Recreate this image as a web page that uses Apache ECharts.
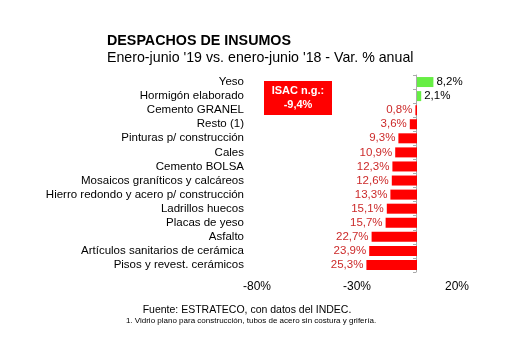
<!DOCTYPE html>
<html><head><meta charset="utf-8">
<script src="https://cdn.jsdelivr.net/npm/echarts@6/dist/echarts.min.js"></script>
<style>html,body{margin:0;padding:0;background:#fff}#c{width:530px;height:355px}</style>
</head><body><div id="c"></div>
<script>
const categories = ["Yeso","Hormigón elaborado","Cemento GRANEL","Resto (1)","Pinturas p/ construcción","Cales","Cemento BOLSA","Mosaicos graníticos y calcáreos","Hierro redondo y acero p/ construcción","Ladrillos huecos","Placas de yeso","Asfalto","Artículos sanitarios de cerámica","Pisos y revest. cerámicos"];
const values = [8.2, 2.1, -0.8, -3.6, -9.3, -10.9, -12.3, -12.6, -13.3, -15.1, -15.7, -22.7, -23.9, -25.3];
const axisMin = -80, axisMax = 20, axisStep = 50;
const titleText = "DESPACHOS DE INSUMOS";
const subtitleText = "Enero-junio '19 vs. enero-junio '18 - Var. % anual";
const sourceText = "Fuente: ESTRATECO, con datos del INDEC.";
const noteText = "1. Vidrio plano para construcción, tubos de acero sin costura y grifería.";
const boxLines = ["ISAC n.g.:", "-9,4%"];

const F = "Liberation Sans, Arial, sans-serif";
const fmt = v => Math.abs(v).toFixed(1).replace('.', ',') + '%';
const chart = echarts.init(document.getElementById('c'), null, {renderer:'canvas'});
chart.setOption({
  animation:false,
  backgroundColor:'#fff',
  textStyle:{fontFamily:F},
  grid:{left:257, right:73, top:75, bottom:83, containLabel:false},
  xAxis:{type:'value', min:axisMin, max:axisMax, interval:axisStep,
    axisLine:{show:false}, axisTick:{show:false}, splitLine:{show:false},
    axisLabel:{formatter:v=>v+'%', color:'#000', fontSize:12, fontFamily:F, margin:9}},
  yAxis:[
    {type:'category', data:categories, inverse:true, position:'left',
     axisLine:{show:false}, axisTick:{show:false},
     axisLabel:{interval:0, color:'#000', fontSize:11.5, fontFamily:F, margin:13}},
    {type:'category', data:categories, inverse:true, position:'right', offset:-41,
     axisLine:{show:true, onZero:false, lineStyle:{color:'#aaa', width:1}},
     axisTick:{show:true, inside:true, interval:0, length:3, lineStyle:{color:'#aaa'}},
     axisLabel:{show:false}}
  ],
  series:[{
    type:'bar', yAxisIndex:0, barWidth:10,
    data: values.map(v=>({value:v,
      itemStyle:{color: v>=0 ? '#66ee44' : '#ff0000'},
      label:{show:true, position: v>=0 ? 'right':'left', distance:3,
        color: v>=0 ? '#000' : '#cc2a2a', fontSize:11.5, fontFamily:F,
        formatter: p=>fmt(p.value)}}))
  }],
  graphic:[
    {type:'text', left:107, top:34, style:{text:titleText, font:'bold 14.3px '+F, fill:'#000'}},
    {type:'text', left:107, top:51, style:{text:subtitleText, font:'14.2px '+F, fill:'#000'}},
    {type:'rect', shape:{x:264, y:81, width:68, height:34}, style:{fill:'#ff0000'}},
    {type:'text', x:298, y:91, style:{text:boxLines[0], font:'bold 11px '+F, fill:'#fff', align:'center', verticalAlign:'middle'}},
    {type:'text', x:298, y:105, style:{text:boxLines[1], font:'bold 11px '+F, fill:'#fff', align:'center', verticalAlign:'middle'}},
    {type:'text', x:247, y:310, style:{text:sourceText, font:'10.5px '+F, fill:'#000', align:'center', verticalAlign:'middle'}},
    {type:'text', x:251, y:321, style:{text:noteText, font:'8px '+F, fill:'#000', align:'center', verticalAlign:'middle'}}
  ]
});
</script></body></html>
